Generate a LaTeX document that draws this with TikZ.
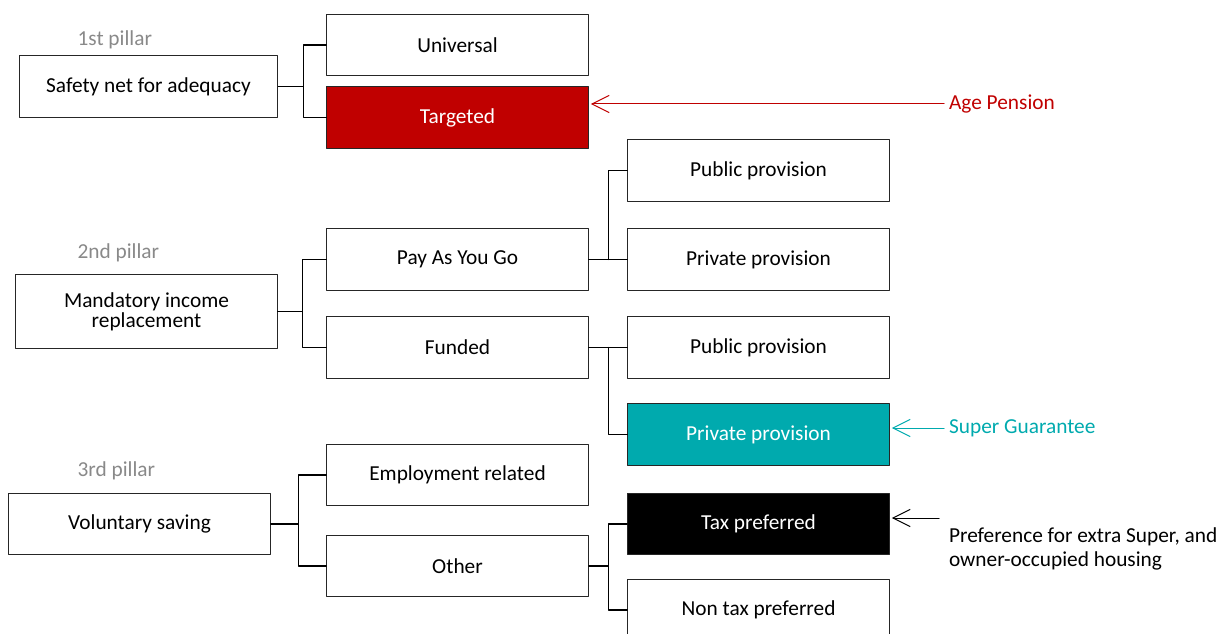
\documentclass[tikz,border=0pt]{standalone}
\usepackage{fontspec}
\setmainfont{Carlito}
\usetikzlibrary{arrows.meta}
\definecolor{pensred}{RGB}{192,0,0}
\definecolor{superteal}{RGB}{0,170,174}
\definecolor{pillargray}{RGB}{137,137,137}
\tikzset{
  box/.style={draw=black!85, line width=0.9pt, minimum width=196pt, minimum height=46pt,
    align=center, inner sep=2pt},
  redbox/.style={box, fill=pensred, text=white},
  tealbox/.style={box, fill=superteal, text=white},
  blackbox/.style={box, fill=black, text=white},
  pillar/.style={text=pillargray, anchor=west, inner sep=0pt},
  note/.style={anchor=west}
}
\begin{document}
\begin{tikzpicture}
			[x=0.75pt, y=-0.75pt, line join=round, line cap=round, line width=0.9pt,
			 >={Straight Barb[length=13pt,width=13pt]}, font=\fontsize{16}{19}\selectfont]
			\useasboundingbox (0,0) rectangle (1226,634);
			% 1st pillar
			\node[pillar] (p1) at (77,40) {1st pillar};
			\node[box, minimum width=194pt] (safe) at (148.5,86.5) {Safety net for adequacy};
			\node[box] (univ) at (457.5,45) {Universal};
			\node[redbox] (targ) at (457.5,117.5) {Targeted};
			\draw (safe.east) -- ++(25,0) coordinate (j1) |- (univ.west) (j1) |- (targ.west);
			% 2nd pillar
			\node[pillar] (p2) at (77,253) {2nd pillar};
			\node[box, minimum height=55pt, font=\fontsize{16}{15}\selectfont] (mand) at (146.5,311.5) {Mandatory income\\replacement};
			\node[box] (payg) at (457.5,259.5) {Pay As You Go};
			\node[box] (fund) at (457.5,347.5) {Funded};
			\draw (mand.east) -- ++(25,0) coordinate (j2) |- (payg.west) (j2) |- (fund.west);
			\node[box] (pub1) at (758.5,170.5) {Public provision};
			\node[box] (priv1) at (758.5,259.5) {Private provision};
			\node[box] (pub2) at (758.5,347.5) {Public provision};
			\node[tealbox] (priv2) at (758.5,434.5) {Private provision};
			\draw (payg.east) -- (priv1.west) (payg.east) ++(20,0) |- (pub1.west);
			\draw (fund.east) -- (pub2.west) (fund.east) ++(20,0) |- (priv2.west);
			% 3rd pillar
			\node[pillar] (p3) at (77,471) {3rd pillar};
			\node[box] (vol) at (139.5,524) {Voluntary saving};
			\node[box] (empl) at (457.5,475) {Employment related};
			\node[box] (oth) at (457.5,566) {Other};
			\draw (vol.east) -- ++(28,0) coordinate (j3) |- (empl.west) (j3) |- (oth.west);
			\node[blackbox] (tax) at (758.5,524) {Tax preferred};
			\node[box] (ntax) at (758.5,610) {Non tax preferred};
			\draw (oth.east) -- ++(20,0) coordinate (j4) |- (tax.west) (j4) |- (ntax.west);
			% notes
			\node[note, text=pensred] (agep) at (944,104) {Age Pension};
			\draw[->, pensred, line width=0.75pt, shorten >=1.5pt] (agep.west) -- (targ.east |- agep.west);
			\node[note, text=superteal] (sg) at (944,428) {Super Guarantee};
			\draw[->, superteal, line width=0.75pt, shorten >=1.5pt] (sg.west) -- (priv2.east |- sg.west);
			\node[note, align=left, font=\fontsize{16}{17.5}\selectfont] (pref) at (944,549) {Preference for extra Super, and\\owner-occupied housing};
			\coordinate (prefarrow) at (939,518);
			\draw[->, line width=0.75pt, shorten >=1.5pt] (prefarrow) -- (tax.east |- prefarrow);
		\end{tikzpicture}
\end{document}
